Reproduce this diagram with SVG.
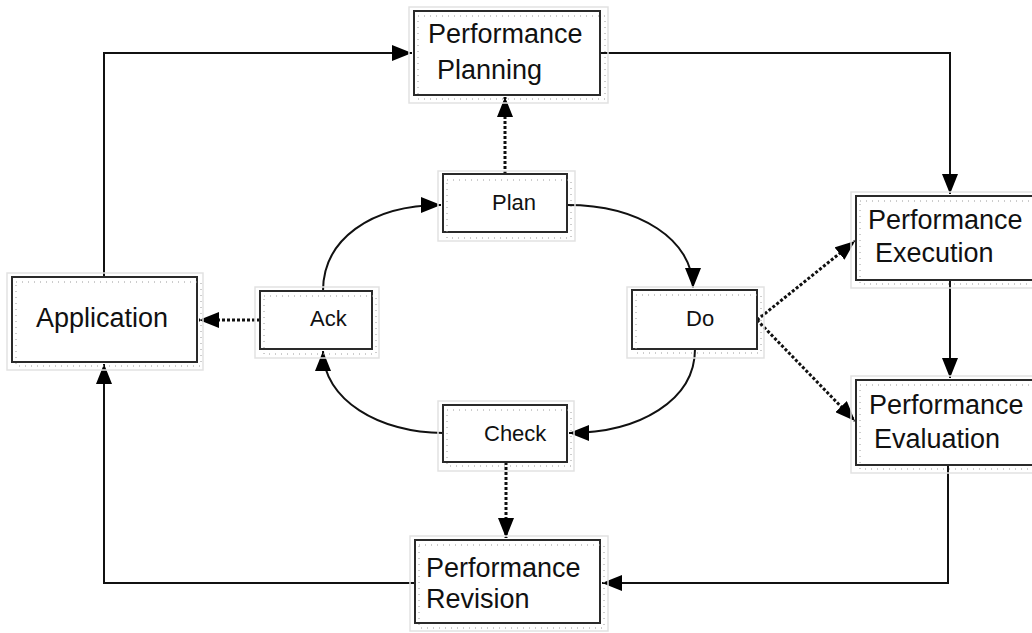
<svg xmlns="http://www.w3.org/2000/svg" width="1032" height="633" viewBox="0 0 1032 633">
<style>
.box{fill:#fff;stroke:#2a2a2a;stroke-width:2}
.shadow{fill:none;stroke:#e2e2e2;stroke-width:1.5}
.dots{fill:none;stroke:#9a9a9a;stroke-width:1;stroke-dasharray:1 5}
.lbl{font-family:"Liberation Sans",Arial,sans-serif;font-size:27px;fill:#111}
.sm{font-family:"Liberation Sans",Arial,sans-serif;font-size:22px;fill:#111}
.ln{fill:none;stroke:#111;stroke-width:2}
.dl{fill:none;stroke:#111;stroke-width:3;stroke-dasharray:3 2}
</style>
<defs>
<marker id="ah" markerUnits="userSpaceOnUse" markerWidth="22" markerHeight="16" refX="20" refY="8" orient="auto">
<path d="M0,0 L20,8 L0,16 Z" fill="#000"/>
</marker>
</defs>
<g id="connectors">
<path class="ln" d="M104,277 V53 H412" marker-end="url(#ah)"/>
<path class="ln" d="M600,53 H950 V194" marker-end="url(#ah)"/>
<path class="ln" d="M950,280 V378" marker-end="url(#ah)"/>
<path class="ln" d="M948,465 V583 H602" marker-end="url(#ah)"/>
<path class="ln" d="M415,583 H104 V364" marker-end="url(#ah)"/>
<path class="dl" d="M505,174 V97" marker-end="url(#ah)"/>
<path class="dl" d="M260,320 H199" marker-end="url(#ah)"/>
<path class="dl" d="M757,320 L855,241" marker-end="url(#ah)"/>
<path class="dl" d="M757,320 L855,421" marker-end="url(#ah)"/>
<path class="dl" d="M506,462 V538" marker-end="url(#ah)"/>
<path class="ln" d="M323,291 C323,240 370,205 441,205" marker-end="url(#ah)"/>
<path class="ln" d="M567,205 C640,205 693,240 693,288" marker-end="url(#ah)"/>
<path class="ln" d="M695,349 C695,400 640,433 569,433" marker-end="url(#ah)"/>
<path class="ln" d="M443,433 C380,433 323,400 323,351" marker-end="url(#ah)"/>
</g>
<g id="planning">
<rect class="shadow" x="409" y="7" width="199" height="96"/>
<rect class="box" x="414" y="11" width="186" height="84"/>
<rect class="dots" x="418" y="16" width="187" height="83"/>
<text class="lbl" x="428" y="43">Performance</text>
<text class="lbl" x="437" y="79">Planning</text>
</g>
<g id="plan">
<rect class="shadow" x="438" y="171" width="137" height="70"/>
<rect class="box" x="443" y="174" width="124" height="58"/>
<rect class="dots" x="447" y="180" width="124" height="58"/>
<text class="sm" x="492" y="210">Plan</text>
</g>
<g id="application">
<rect class="shadow" x="7" y="273" width="196" height="97"/>
<rect class="box" x="12" y="277" width="185" height="85"/>
<rect class="dots" x="16" y="282" width="185" height="84"/>
<text class="lbl" x="36" y="327">Application</text>
</g>
<g id="ack">
<rect class="shadow" x="255" y="287" width="124" height="71"/>
<rect class="box" x="260" y="291" width="112" height="58"/>
<rect class="dots" x="264" y="296" width="112" height="58"/>
<text class="sm" x="310" y="326">Ack</text>
</g>
<g id="do">
<rect class="shadow" x="627" y="287" width="137" height="71"/>
<rect class="box" x="632" y="290" width="125" height="59"/>
<rect class="dots" x="636" y="295" width="125" height="58"/>
<text class="sm" x="686" y="326">Do</text>
</g>
<g id="execution">
<rect class="shadow" x="851" y="192" width="185" height="96"/>
<rect class="box" x="856" y="196" width="180" height="84"/>
<rect class="dots" x="860" y="201" width="180" height="83"/>
<text class="lbl" x="868" y="229">Performance</text>
<text class="lbl" x="875" y="262">Execution</text>
</g>
<g id="evaluation">
<rect class="shadow" x="851" y="376" width="185" height="97"/>
<rect class="box" x="856" y="380" width="180" height="85"/>
<rect class="dots" x="860" y="385" width="180" height="84"/>
<text class="lbl" x="869" y="414">Performance</text>
<text class="lbl" x="874" y="448">Evaluation</text>
</g>
<g id="check">
<rect class="shadow" x="438" y="401" width="136" height="70"/>
<rect class="box" x="443" y="405" width="124" height="57"/>
<rect class="dots" x="447" y="410" width="124" height="56"/>
<text class="sm" x="484" y="441">Check</text>
</g>
<g id="revision">
<rect class="shadow" x="410" y="536" width="198" height="95"/>
<rect class="box" x="415" y="540" width="185" height="83"/>
<rect class="dots" x="419" y="545" width="185" height="83"/>
<text class="lbl" x="426" y="577">Performance</text>
<text class="lbl" x="426" y="608">Revision</text>
</g>
</svg>
